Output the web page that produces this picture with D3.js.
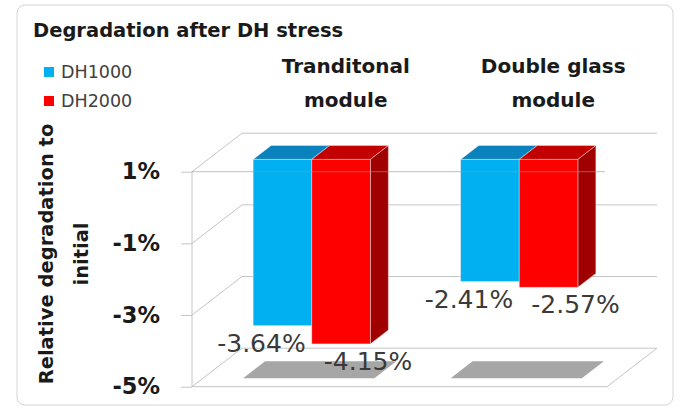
<!DOCTYPE html>
<html>
<head>
<meta charset="utf-8">
<script src="https://cdn.jsdelivr.net/npm/d3@7"></script>
<style>
  body { margin: 0; background: #fff; }
  svg { display: block; font-family: "DejaVu Sans", sans-serif; }
</style>
</head>
<body>
<svg id="chart" width="679" height="414"></svg>
<script>
// data
var categories = ["Tranditonal module", "Double glass module"];
var categoryLines = [["Tranditonal", "module"], ["Double glass", "module"]];
var seriesNames = ["DH1000", "DH2000"];
var dh1000 = [-3.64, -2.41];
var dh2000 = [-4.15, -2.57];
var tickValues = [1, -1, -3, -5];

var colors = {
  DH1000: { front: "#00b0f0", top: "#0a82bd", side: "#0077aa" },
  DH2000: { front: "#ff0000", top: "#c30000", side: "#a00000" }
};

var svg = d3.select("#chart");

// 3d-ish projection: world x, value, depth z (0 = front, 1 = back wall)
var DX = 50, DY = 38.5;
var x0 = d3.scaleBand().domain(categories).range([192, 607]).padding(0);
var x1 = d3.scaleBand().domain(seriesNames).range([0, x0.bandwidth()]).paddingInner(0).paddingOuter(0.77);
var y = d3.scaleLinear().domain([-5, 1]).range([386.7, 171.7]);

var P = function(xw, v, z) {
  return [xw + z * DX, y(v) - z * DY];
};
var line = d3.line();

// outer frame
svg.append("rect")
  .attr("x", 17).attr("y", 5).attr("width", 656).attr("height", 400)
  .attr("rx", 8)
  .attr("fill", "#fff")
  .attr("stroke", "#d4d4d4");

var left = x0.range()[0], right = x0.range()[1];
var grid = svg.append("g").attr("stroke", "#c4c4c4").attr("fill", "none").attr("stroke-width", 1);

// back wall grid lines + side wall diagonals
tickValues.forEach(function(v) {
  grid.append("path").attr("d", line([P(left, v, 1), P(right, v, 1)]));
  grid.append("path").attr("d", line([P(left, v, 0), P(left, v, 1)]));
});
// front edge of side wall and floor
grid.append("path").attr("d", line([P(left, 1, 0), P(left, -5, 0)]));
grid.append("path").attr("d", line([P(left, -5, 0), P(right, -5, 0), P(right, -5, 1)]));

// y axis ticks and labels
var yAxis = d3.axisLeft(y).tickValues(tickValues).tickSize(11).tickPadding(21)
  .tickFormat(function(d) { return d + "%"; });
var ax = svg.append("g").attr("transform", "translate(" + left + ",0)").call(yAxis);
ax.select(".domain").remove();
ax.selectAll(".tick line").attr("stroke", "#c4c4c4");
ax.selectAll(".tick text")
  .attr("fill", "#1a1a1a")
  .style("font-family", "DejaVu Sans")
  .style("font-size", "22.5px")
  .style("font-weight", "bold");

// rows for bars
var rows = [];
categories.forEach(function(c, i) {
  rows.push({ cat: c, series: "DH1000", value: dh1000[i] });
  rows.push({ cat: c, series: "DH2000", value: dh2000[i] });
});

var zf = 0.32, zb = 0.68;

// floor shadows
categories.forEach(function(c) {
  var xa = x0(c) + x1("DH1000") - 5;
  var xb = x0(c) + x1("DH2000") + x1.bandwidth() + 9;
  svg.append("path")
    .attr("d", line([P(xa, -5, 0.22), P(xb, -5, 0.22), P(xb, -5, 0.66), P(xa, -5, 0.66)]) + "Z")
    .attr("fill", "#a6a6a6");
});

// bars, hanging from the 1% plane down to the value
var bars = svg.append("g");
rows.forEach(function(d) {
  var xl = x0(d.cat) + x1(d.series);
  var xr = xl + x1.bandwidth();
  var c = colors[d.series];
  var g = bars.append("g").attr("stroke", "rgba(255,235,235,0.55)").attr("stroke-width", 0.8);
  g.append("path")
    .attr("d", line([P(xl, 1, zf), P(xr, 1, zf), P(xr, 1, zb), P(xl, 1, zb)]) + "Z")
    .attr("fill", c.top);
  g.append("path")
    .attr("d", line([P(xr, 1, zf), P(xr, 1, zb), P(xr, d.value, zb), P(xr, d.value, zf)]) + "Z")
    .attr("fill", c.side);
  var a = P(xl, 1, zf), b = P(xr, d.value, zf);
  g.append("rect")
    .attr("x", a[0]).attr("y", a[1])
    .attr("width", b[0] - a[0]).attr("height", b[1] - a[1])
    .attr("fill", c.front);
});

// front edge of the 1% plane, drawn over the bars
svg.append("path")
  .attr("d", line([P(left, 1, 0), P(right - 2, 1, 0)]))
  .attr("stroke", "rgba(150,150,150,0.6)")
  .attr("fill", "none");

// data labels
var fmt = function(v) { return v.toFixed(2) + "%"; };
svg.append("g").selectAll("text")
  .data(rows)
  .join("text")
  .attr("x", function(d) {
    var p = P(x0(d.cat) + x1(d.series) + x1.bandwidth() / 2, d.value, zf);
    return d.series === "DH1000" ? p[0] - 21 : p[0] + 27;
  })
  .attr("y", function(d) {
    var p = P(x0(d.cat) + x1(d.series), d.value, zf);
    return p[1] + 26;
  })
  .attr("text-anchor", "middle")
  .attr("fill", "#3a3a3a")
  .style("font-size", "25px")
  .text(function(d) { return fmt(d.value); });

// category labels, over the back wall
categories.forEach(function(c, i) {
  var cx = x0(c) + x0.bandwidth() / 2 + DX;
  categoryLines[i].forEach(function(t, j) {
    svg.append("text")
      .attr("x", cx).attr("y", 73 + j * 33.5)
      .attr("text-anchor", "middle")
      .attr("fill", "#1a1a1a")
      .style("font-size", "20px")
      .style("font-weight", "bold")
      .text(t);
  });
});

// title
svg.append("text")
  .attr("x", 33).attr("y", 37)
  .attr("fill", "#1a1a1a")
  .style("font-size", "19.5px")
  .style("font-weight", "bold")
  .text("Degradation after DH stress");

// legend
seriesNames.forEach(function(s, i) {
  svg.append("rect")
    .attr("x", 44).attr("y", 67 + i * 29)
    .attr("width", 10).attr("height", 10)
    .attr("fill", colors[s].front);
  svg.append("text")
    .attr("x", 61).attr("y", 77.5 + i * 29)
    .attr("fill", "#404040")
    .style("font-size", "17.5px")
    .text(s);
});

// y axis title
var yt = svg.append("text")
  .attr("transform", "translate(53,254) rotate(-90)")
  .attr("text-anchor", "middle")
  .attr("fill", "#1a1a1a")
  .style("font-size", "19.5px")
  .style("font-weight", "bold");
yt.append("tspan").attr("x", 0).attr("y", 0).text("Relative degradation to");
yt.append("tspan").attr("x", 0).attr("y", 35).text("initial");
</script>
</body>
</html>
